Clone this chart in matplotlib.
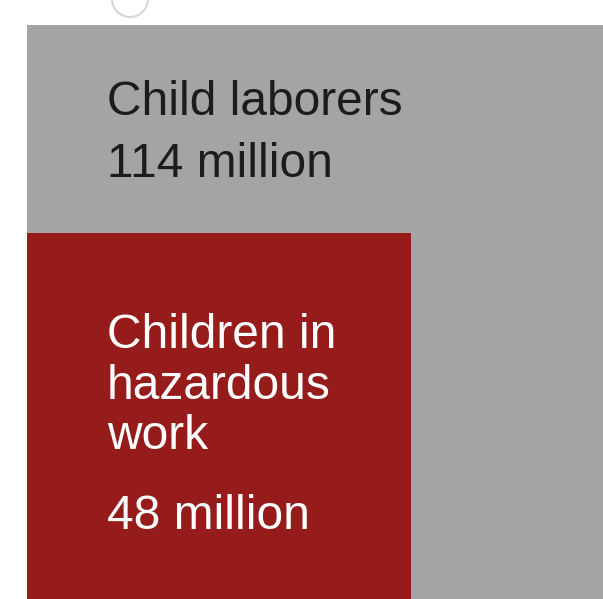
import numpy as np
import matplotlib.pyplot as plt
from matplotlib.patches import Rectangle, Circle

# values in millions; squares are sized by area
labels = ["Child laborers", "Children in\nhazardous\nwork"]
values = [114, 48]
value_text = ["114 million", "48 million"]
colors = ["#a4a4a4", "#951c1b"]
text_colors = ["#1c1c1c", "#ffffff"]

plt.rcParams["font.family"] = ["Liberation Sans", "DejaVu Sans"]

fig = plt.figure(figsize=(6.03, 5.99), dpi=100)
ax = fig.add_axes([0, 0, 1, 1])

# one data unit = sqrt(1 million); 55.4 px per unit
k = 55.4
ax.set_xlim(-27 / k, (603 - 27) / k)
ax.set_ylim((617 - 599) / k, 617 / k)
ax.axis("off")

sides = np.sqrt(values)
for side, c in zip(sides, colors):
    ax.add_patch(Rectangle((0, 0), side, side, facecolor=c, edgecolor="none"))

fs = 34.5
x_txt = 80 / k
lh = 50.5 / k

# big square: label then value
top = sides[0]
ax.text(x_txt, top - 89.5 / k, labels[0], fontsize=fs, color=text_colors[0],
        va="baseline", ha="left")
ax.text(x_txt, top - 152 / k, value_text[0], fontsize=fs, color=text_colors[0],
        va="baseline", ha="left")

# small square: three-line label then value
top = sides[1]
for i, line in enumerate(labels[1].split("\n")):
    ax.text(x_txt, top - 115 / k - i * lh, line, fontsize=fs,
            color=text_colors[1], va="baseline", ha="left")
ax.text(x_txt, top - 296 / k, value_text[1], fontsize=fs, color=text_colors[1],
        va="baseline", ha="left")

# partly hidden info icon above the chart
ax.add_patch(Circle((103 / k, 618 / k), 18 / k, facecolor="none",
                    edgecolor="#d6d6d6", lw=1.5, clip_on=False))

fig.savefig("out.png", dpi=100, facecolor="white")
